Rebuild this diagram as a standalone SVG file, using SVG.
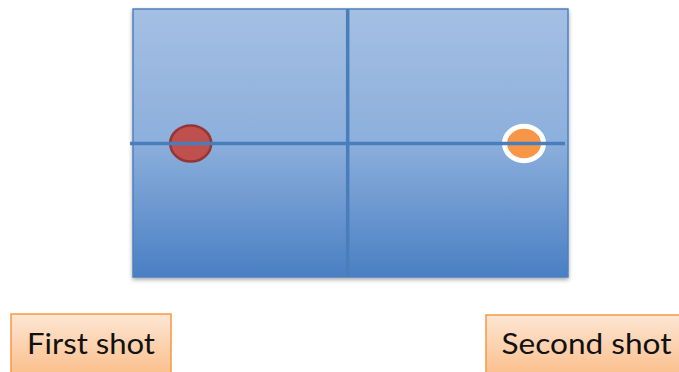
<svg xmlns="http://www.w3.org/2000/svg" width="679" height="372" viewBox="0 0 679 372">
  <defs>
    <linearGradient id="tableFill" x1="0" y1="0" x2="0" y2="1">
      <stop offset="0" stop-color="#a4bfe3"/>
      <stop offset="0.5" stop-color="#8cafdc"/>
      <stop offset="1" stop-color="#4a7fc4"/>
    </linearGradient>
    <linearGradient id="labelFill" x1="0" y1="0" x2="0" y2="1">
      <stop offset="0" stop-color="#fde6d4"/>
      <stop offset="1" stop-color="#fbbf8c"/>
    </linearGradient>
    <filter id="shadow" x="-5%" y="-5%" width="110%" height="115%">
      <feGaussianBlur in="SourceAlpha" stdDeviation="2"/>
      <feOffset dy="2" result="b"/>
      <feComponentTransfer><feFuncA type="linear" slope="0.35"/></feComponentTransfer>
      <feMerge><feMergeNode/><feMergeNode in="SourceGraphic"/></feMerge>
    </filter>
    <style>
      .line { stroke: #4a7ebb; stroke-width: 3.5; stroke-linecap: butt; }
      .label-box { fill: url(#labelFill); stroke: #f79646; stroke-width: 1.5; }
      .label-text { font-family: Lato, "Liberation Sans", sans-serif; font-size: 28px; fill: #111; }
    </style>
  </defs>

  <!-- table surface -->
  <g id="table">
    <rect x="133" y="9" width="435" height="268" fill="url(#tableFill)" stroke="#4f81bd" stroke-width="1.5" filter="url(#shadow)"/>
  </g>

  <!-- center line and net -->
  <g id="lines">
    <line class="line" x1="347.7" y1="9" x2="347.7" y2="277"/>
  </g>

  <!-- first bounce -->
  <g id="first-ball">
    <ellipse cx="190.7" cy="143.5" rx="20.5" ry="18" fill="#c0504d" stroke="#943634" stroke-width="2.5"/>
  </g>

  <!-- second bounce -->
  <g id="second-ball">
    <ellipse cx="524" cy="143.5" rx="19.5" ry="17.3" fill="#f79646" stroke="#ffffff" stroke-width="5"/>
  </g>

  <g id="net">
    <line class="line" x1="130" y1="143.5" x2="565" y2="143.5"/>
  </g>

  <!-- labels -->
  <g id="label-first">
    <rect class="label-box" x="11" y="314" width="160" height="60"/>
    <text class="label-text" x="91" y="354" text-anchor="middle" textLength="128" lengthAdjust="spacingAndGlyphs">First shot</text>
  </g>
  <g id="label-second">
    <rect class="label-box" x="486" y="315" width="200" height="60"/>
    <text class="label-text" x="501.5" y="354" textLength="170" lengthAdjust="spacingAndGlyphs">Second shot</text>
  </g>
</svg>
